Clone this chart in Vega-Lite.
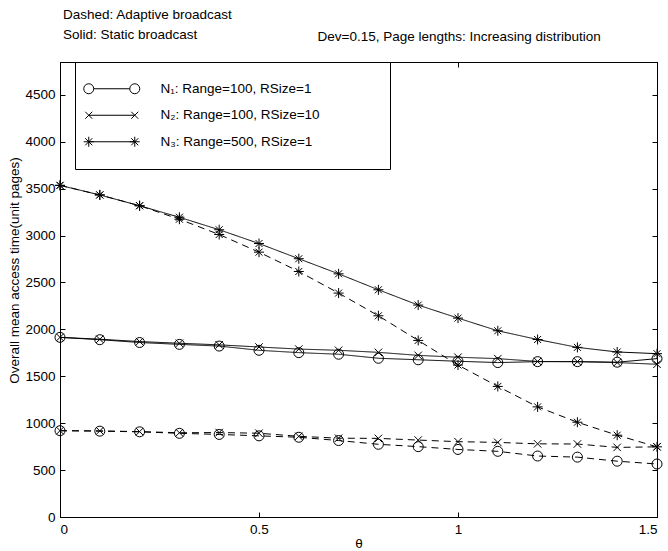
{
  "$schema": "https://vega.github.io/schema/vega-lite/v6.json",
  "width": 597,
  "height": 455,
  "autosize": {"type": "none"},
  "padding": {"left": 60, "top": 62, "right": 11, "bottom": 34},
  "background": "white",
  "title": {
    "text": ["Dashed: Adaptive broadcast", "Solid: Static broadcast"],
    "anchor": "start",
    "frame": "group",
    "fontSize": 13.5,
    "fontWeight": "normal",
    "font": "Liberation Sans",
    "color": "black",
    "lineHeight": 20,
    "offset": 10,
    "dx": 3,
    "dy": 22
  },
  "data": {
    "values": [
      {"theta": 0, "net": "N₁: Range=100, RSize=1", "mode": "Static", "time": 1915},
      {"theta": 0.1, "net": "N₁: Range=100, RSize=1", "mode": "Static", "time": 1890},
      {"theta": 0.2, "net": "N₁: Range=100, RSize=1", "mode": "Static", "time": 1860},
      {"theta": 0.3, "net": "N₁: Range=100, RSize=1", "mode": "Static", "time": 1840},
      {"theta": 0.4, "net": "N₁: Range=100, RSize=1", "mode": "Static", "time": 1822},
      {"theta": 0.5, "net": "N₁: Range=100, RSize=1", "mode": "Static", "time": 1777},
      {"theta": 0.6, "net": "N₁: Range=100, RSize=1", "mode": "Static", "time": 1752},
      {"theta": 0.7, "net": "N₁: Range=100, RSize=1", "mode": "Static", "time": 1735},
      {"theta": 0.8, "net": "N₁: Range=100, RSize=1", "mode": "Static", "time": 1692},
      {"theta": 0.9, "net": "N₁: Range=100, RSize=1", "mode": "Static", "time": 1676},
      {"theta": 1.0, "net": "N₁: Range=100, RSize=1", "mode": "Static", "time": 1660},
      {"theta": 1.1, "net": "N₁: Range=100, RSize=1", "mode": "Static", "time": 1646},
      {"theta": 1.2, "net": "N₁: Range=100, RSize=1", "mode": "Static", "time": 1656},
      {"theta": 1.3, "net": "N₁: Range=100, RSize=1", "mode": "Static", "time": 1656},
      {"theta": 1.4, "net": "N₁: Range=100, RSize=1", "mode": "Static", "time": 1650},
      {"theta": 1.5, "net": "N₁: Range=100, RSize=1", "mode": "Static", "time": 1688},
      {"theta": 0, "net": "N₂: Range=100, RSize=10", "mode": "Static", "time": 1915},
      {"theta": 0.1, "net": "N₂: Range=100, RSize=10", "mode": "Static", "time": 1895},
      {"theta": 0.2, "net": "N₂: Range=100, RSize=10", "mode": "Static", "time": 1870},
      {"theta": 0.3, "net": "N₂: Range=100, RSize=10", "mode": "Static", "time": 1852},
      {"theta": 0.4, "net": "N₂: Range=100, RSize=10", "mode": "Static", "time": 1835},
      {"theta": 0.5, "net": "N₂: Range=100, RSize=10", "mode": "Static", "time": 1812},
      {"theta": 0.6, "net": "N₂: Range=100, RSize=10", "mode": "Static", "time": 1790},
      {"theta": 0.7, "net": "N₂: Range=100, RSize=10", "mode": "Static", "time": 1777},
      {"theta": 0.8, "net": "N₂: Range=100, RSize=10", "mode": "Static", "time": 1755},
      {"theta": 0.9, "net": "N₂: Range=100, RSize=10", "mode": "Static", "time": 1723},
      {"theta": 1.0, "net": "N₂: Range=100, RSize=10", "mode": "Static", "time": 1703},
      {"theta": 1.1, "net": "N₂: Range=100, RSize=10", "mode": "Static", "time": 1688},
      {"theta": 1.2, "net": "N₂: Range=100, RSize=10", "mode": "Static", "time": 1658},
      {"theta": 1.3, "net": "N₂: Range=100, RSize=10", "mode": "Static", "time": 1656},
      {"theta": 1.4, "net": "N₂: Range=100, RSize=10", "mode": "Static", "time": 1646},
      {"theta": 1.5, "net": "N₂: Range=100, RSize=10", "mode": "Static", "time": 1628},
      {"theta": 0, "net": "N₃: Range=500, RSize=1", "mode": "Static", "time": 3535},
      {"theta": 0.1, "net": "N₃: Range=500, RSize=1", "mode": "Static", "time": 3433},
      {"theta": 0.2, "net": "N₃: Range=500, RSize=1", "mode": "Static", "time": 3318},
      {"theta": 0.3, "net": "N₃: Range=500, RSize=1", "mode": "Static", "time": 3195},
      {"theta": 0.4, "net": "N₃: Range=500, RSize=1", "mode": "Static", "time": 3062},
      {"theta": 0.5, "net": "N₃: Range=500, RSize=1", "mode": "Static", "time": 2915},
      {"theta": 0.6, "net": "N₃: Range=500, RSize=1", "mode": "Static", "time": 2753},
      {"theta": 0.7, "net": "N₃: Range=500, RSize=1", "mode": "Static", "time": 2592},
      {"theta": 0.8, "net": "N₃: Range=500, RSize=1", "mode": "Static", "time": 2422},
      {"theta": 0.9, "net": "N₃: Range=500, RSize=1", "mode": "Static", "time": 2259},
      {"theta": 1.0, "net": "N₃: Range=500, RSize=1", "mode": "Static", "time": 2120},
      {"theta": 1.1, "net": "N₃: Range=500, RSize=1", "mode": "Static", "time": 1985},
      {"theta": 1.2, "net": "N₃: Range=500, RSize=1", "mode": "Static", "time": 1892},
      {"theta": 1.3, "net": "N₃: Range=500, RSize=1", "mode": "Static", "time": 1808},
      {"theta": 1.4, "net": "N₃: Range=500, RSize=1", "mode": "Static", "time": 1759},
      {"theta": 1.5, "net": "N₃: Range=500, RSize=1", "mode": "Static", "time": 1741},
      {"theta": 0, "net": "N₁: Range=100, RSize=1", "mode": "Adaptive", "time": 920},
      {"theta": 0.1, "net": "N₁: Range=100, RSize=1", "mode": "Adaptive", "time": 915},
      {"theta": 0.2, "net": "N₁: Range=100, RSize=1", "mode": "Adaptive", "time": 908},
      {"theta": 0.3, "net": "N₁: Range=100, RSize=1", "mode": "Adaptive", "time": 892},
      {"theta": 0.4, "net": "N₁: Range=100, RSize=1", "mode": "Adaptive", "time": 880},
      {"theta": 0.5, "net": "N₁: Range=100, RSize=1", "mode": "Adaptive", "time": 865},
      {"theta": 0.6, "net": "N₁: Range=100, RSize=1", "mode": "Adaptive", "time": 850},
      {"theta": 0.7, "net": "N₁: Range=100, RSize=1", "mode": "Adaptive", "time": 815},
      {"theta": 0.8, "net": "N₁: Range=100, RSize=1", "mode": "Adaptive", "time": 775},
      {"theta": 0.9, "net": "N₁: Range=100, RSize=1", "mode": "Adaptive", "time": 750},
      {"theta": 1.0, "net": "N₁: Range=100, RSize=1", "mode": "Adaptive", "time": 720},
      {"theta": 1.1, "net": "N₁: Range=100, RSize=1", "mode": "Adaptive", "time": 700},
      {"theta": 1.2, "net": "N₁: Range=100, RSize=1", "mode": "Adaptive", "time": 650},
      {"theta": 1.3, "net": "N₁: Range=100, RSize=1", "mode": "Adaptive", "time": 638},
      {"theta": 1.4, "net": "N₁: Range=100, RSize=1", "mode": "Adaptive", "time": 595},
      {"theta": 1.5, "net": "N₁: Range=100, RSize=1", "mode": "Adaptive", "time": 565},
      {"theta": 0, "net": "N₂: Range=100, RSize=10", "mode": "Adaptive", "time": 920},
      {"theta": 0.1, "net": "N₂: Range=100, RSize=10", "mode": "Adaptive", "time": 918},
      {"theta": 0.2, "net": "N₂: Range=100, RSize=10", "mode": "Adaptive", "time": 910},
      {"theta": 0.3, "net": "N₂: Range=100, RSize=10", "mode": "Adaptive", "time": 898},
      {"theta": 0.4, "net": "N₂: Range=100, RSize=10", "mode": "Adaptive", "time": 900},
      {"theta": 0.5, "net": "N₂: Range=100, RSize=10", "mode": "Adaptive", "time": 893},
      {"theta": 0.6, "net": "N₂: Range=100, RSize=10", "mode": "Adaptive", "time": 860},
      {"theta": 0.7, "net": "N₂: Range=100, RSize=10", "mode": "Adaptive", "time": 840},
      {"theta": 0.8, "net": "N₂: Range=100, RSize=10", "mode": "Adaptive", "time": 838},
      {"theta": 0.9, "net": "N₂: Range=100, RSize=10", "mode": "Adaptive", "time": 820},
      {"theta": 1.0, "net": "N₂: Range=100, RSize=10", "mode": "Adaptive", "time": 803},
      {"theta": 1.1, "net": "N₂: Range=100, RSize=10", "mode": "Adaptive", "time": 795},
      {"theta": 1.2, "net": "N₂: Range=100, RSize=10", "mode": "Adaptive", "time": 780},
      {"theta": 1.3, "net": "N₂: Range=100, RSize=10", "mode": "Adaptive", "time": 778},
      {"theta": 1.4, "net": "N₂: Range=100, RSize=10", "mode": "Adaptive", "time": 742},
      {"theta": 1.5, "net": "N₂: Range=100, RSize=10", "mode": "Adaptive", "time": 748},
      {"theta": 0, "net": "N₃: Range=500, RSize=1", "mode": "Adaptive", "time": 3535},
      {"theta": 0.1, "net": "N₃: Range=500, RSize=1", "mode": "Adaptive", "time": 3433},
      {"theta": 0.2, "net": "N₃: Range=500, RSize=1", "mode": "Adaptive", "time": 3318},
      {"theta": 0.3, "net": "N₃: Range=500, RSize=1", "mode": "Adaptive", "time": 3174},
      {"theta": 0.4, "net": "N₃: Range=500, RSize=1", "mode": "Adaptive", "time": 3011},
      {"theta": 0.5, "net": "N₃: Range=500, RSize=1", "mode": "Adaptive", "time": 2823},
      {"theta": 0.6, "net": "N₃: Range=500, RSize=1", "mode": "Adaptive", "time": 2617},
      {"theta": 0.7, "net": "N₃: Range=500, RSize=1", "mode": "Adaptive", "time": 2387},
      {"theta": 0.8, "net": "N₃: Range=500, RSize=1", "mode": "Adaptive", "time": 2145},
      {"theta": 0.9, "net": "N₃: Range=500, RSize=1", "mode": "Adaptive", "time": 1882},
      {"theta": 1.0, "net": "N₃: Range=500, RSize=1", "mode": "Adaptive", "time": 1620},
      {"theta": 1.1, "net": "N₃: Range=500, RSize=1", "mode": "Adaptive", "time": 1392},
      {"theta": 1.2, "net": "N₃: Range=500, RSize=1", "mode": "Adaptive", "time": 1174},
      {"theta": 1.3, "net": "N₃: Range=500, RSize=1", "mode": "Adaptive", "time": 1010},
      {"theta": 1.4, "net": "N₃: Range=500, RSize=1", "mode": "Adaptive", "time": 872},
      {"theta": 1.5, "net": "N₃: Range=500, RSize=1", "mode": "Adaptive", "time": 748}
    ]
  },
  "layer": [
    {
      "mark": {"type": "line", "color": "black", "strokeWidth": 1},
      "encoding": {
        "x": {
          "field": "theta", "type": "quantitative",
          "scale": {"domain": [0, 1.5], "nice": false, "zero": false},
          "axis": {
            "orient": "bottom", "values": [0, 0.5, 1, 1.5],
            "labelExpr": "'' + datum.value",
            "title": "θ", "titleBaseline": "middle", "titleY": 26, "titleX": 298.5
          }
        },
        "y": {
          "field": "time", "type": "quantitative",
          "scale": {"domain": [0, 4850], "nice": false},
          "axis": {
            "orient": "left",
            "values": [0, 500, 1000, 1500, 2000, 2500, 3000, 3500, 4000, 4500],
            "format": "d",
            "title": "Overall mean access time(unit pages)",
            "titleX": -39, "titleY": 208, "titleBaseline": "bottom", "titleAngle": -90
          }
        },
        "detail": {"field": "net"},
        "strokeDash": {
          "field": "mode", "type": "nominal",
          "scale": {"domain": ["Adaptive", "Static"], "range": [[7, 5], [1, 0]]},
          "legend": null
        }
      }
    },
    {
      "mark": {"type": "point", "filled": false, "stroke": "black", "strokeWidth": 1, "size": 100, "opacity": 1},
      "encoding": {
        "x": {
          "field": "theta", "type": "quantitative",
          "axis": {
            "orient": "top", "values": [0, 0.5, 1, 1.5], "labels": false,
            "title": "Dev=0.15, Page lengths: Increasing distribution",
            "titleX": 257, "titleY": -22, "titleAlign": "left", "titleBaseline": "alphabetic", "titleAngle": 0
          }
        },
        "y": {
          "field": "time", "type": "quantitative",
          "axis": {
            "orient": "right",
            "values": [0, 500, 1000, 1500, 2000, 2500, 3000, 3500, 4000, 4500],
            "labels": false, "title": null
          }
        },
        "shape": {
          "field": "net", "type": "nominal",
          "scale": {"range": ["circle", "M-0.75,-0.75L0.75,0.75M-0.75,0.75L0.75,-0.75", "M-1,0L1,0M0,-1L0,1M-0.7,-0.7L0.7,0.7M-0.7,0.7L0.7,-0.7"]},
          "legend": null
        }
      }
    },
    {
      "mark": {"type": "point", "filled": false, "stroke": "black", "opacity": 0},
      "encoding": {
        "x": {"field": "theta", "type": "quantitative", "axis": null},
        "y": {"field": "time", "type": "quantitative", "axis": null},
        "shape": {
          "field": "net", "type": "nominal",
          "scale": {"range": [
            "M-1.6,0L5.6,0M-1.6,0A1,1,0,1,1,-3.6,0A1,1,0,1,1,-1.6,0M7.6,0A1,1,0,1,1,5.6,0A1,1,0,1,1,7.6,0",
            "M-2.6,0L6.6,0M-3.3,-0.7L-1.9,0.7M-3.3,0.7L-1.9,-0.7M5.9,-0.7L7.3,0.7M5.9,0.7L7.3,-0.7",
            "M-2.6,0L6.6,0M-3.6,0L-1.6,0M-2.6,-1L-2.6,1M-3.3,-0.7L-1.9,0.7M-3.3,0.7L-1.9,-0.7M5.6,0L7.6,0M6.6,-1L6.6,1M5.9,-0.7L7.3,0.7M5.9,0.7L7.3,-0.7"
          ]},
          "legend": {
            "orient": "none", "legendX": 15, "legendY": 0,
            "title": null, "padding": 20,
            "strokeColor": "black", "fillColor": "white",
            "symbolSize": 100, "symbolStrokeColor": "black", "symbolFillColor": "transparent",
            "symbolStrokeWidth": 1, "symbolOpacity": 1,
            "labelFontSize": 13.5, "labelFont": "Liberation Sans", "labelColor": "black",
            "labelExpr": "datum.label + '\u2800\u2800\u2800\u2800\u2800'",
            "labelLimit": 400,
            "labelOffset": 52, "rowPadding": 11.5
          }
        }
      }
    }
  ],
  "resolve": {
    "scale": {"shape": "independent"},
    "axis": {"x": "independent", "y": "independent"}
  },
  "config": {
    "font": "Liberation Sans",
    "view": {"stroke": "black", "strokeWidth": 1},
    "axis": {
      "grid": false,
      "domainColor": "black",
      "tickColor": "black",
      "tickSize": -5,
      "labelColor": "black",
      "labelFontSize": 13.5,
      "labelFont": "Liberation Sans",
      "titleFont": "Liberation Sans",
      "titleFontSize": 13.5,
      "titleFontWeight": "normal",
      "titleColor": "black",
      "labelPadding": 10
    }
  }
}
